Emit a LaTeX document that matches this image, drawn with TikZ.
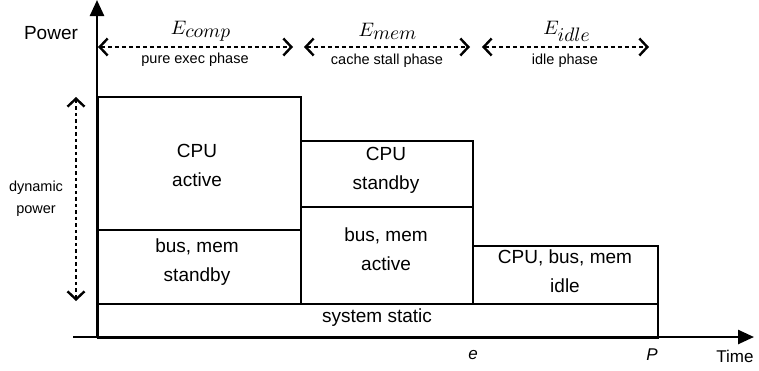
\documentclass[tikz,border=0pt]{standalone}
\usepackage{fontspec}
\setmainfont{Liberation Sans}
\usetikzlibrary{arrows.meta}
\begin{document}
\begin{tikzpicture}[x=1pt,y=-1pt,
  blk/.style={draw, line width=2pt, inner sep=0pt, anchor=north west},
  txt/.style={font=\fontsize{19}{29}\selectfont, align=center, inner sep=0pt},
  small/.style={font=\fontsize{14.5}{22}\selectfont, align=center, inner sep=0pt},
  mlab/.style={inner sep=0pt},
  ax/.style={line width=2.5pt, -{Triangle[length=16pt,width=14pt]}},
  barb/.tip={Straight Barb[length=8pt,width=17pt,line width=2.4pt]},
  span/.style={line width=2pt, dash pattern=on 4pt off 3pt, barb-barb}]
\useasboundingbox (0,0) rectangle (759,370);
% boxes
\node[blk, minimum width=203pt, minimum height=133pt] (cpuact) at (97,96) {};
\node[blk, minimum width=203pt, minimum height=74pt] (busstb) at (97,229) {};
\node[blk, minimum width=172pt, minimum height=66pt] (cpustb) at (300,140) {};
\node[blk, minimum width=172pt, minimum height=97pt] (busact) at (300,206) {};
\node[blk, minimum width=185pt, minimum height=58pt] (idlebox) at (472,245) {};
\node[blk, minimum width=560pt, minimum height=34pt] (static) at (97,303) {};
% axes
\coordinate (yb) at (97,338);
\coordinate (yt) at (97,0);
\coordinate (xl) at (73,337);
\coordinate (xr) at (754,337);
\draw[ax] (yb) -- (yt);
\draw[ax] (xl) -- (xr);
% box texts
\node[txt] (t1) at (197,165) {CPU\\active};
\node[txt] (t2) at (197,262) {bus, mem\\standby};
\node[txt] (t3) at (386,170) {CPU\\standby};
\node[txt] (t4) at (386,249) {bus, mem\\active};
\node[txt] (t5) at (565,271) {CPU, bus, mem\\idle};
\node[txt] (t6) at (377,318) {system static};
% phase spans
\coordinate (a1l) at (98,47);  \coordinate (a1r) at (293,47);
\coordinate (a2l) at (304,47); \coordinate (a2r) at (470,47);
\coordinate (a3l) at (482,47); \coordinate (a3r) at (649,47);
\draw[span] (a1l) -- (a1r);
\draw[span] (a2l) -- (a2r);
\draw[span] (a3l) -- (a3r);
\node[mlab] (e1) at (201,31) {\scalebox{1.95}{$E_{\textstyle comp}$}};
\node[mlab] (e2) at (388,31) {\scalebox{1.95}{$E_{\textstyle mem}$}};
\node[mlab] (e3) at (567,31) {\scalebox{1.95}{$E_{\textstyle idle}$}};
\node[small] (p1) at (195,60) {pure exec phase};
\node[small] (p2) at (387,61) {cache stall phase};
\node[small] (p3) at (565,61) {idle phase};
% dynamic power
\coordinate (dt) at (76,97);
\coordinate (db) at (76,301);
\draw[span, line width=2.5pt, dash pattern=on 3.5pt off 3pt] (dt) -- (db);
\node[small] (dyn) at (36,199) {dynamic\\power};
% axis labels
\node[font=\fontsize{19}{22}\selectfont, inner sep=0pt] (pw) at (51,33) {Power};
\node[font=\fontsize{17}{20}\selectfont, inner sep=0pt] (tm) at (735,356) {Time};
\node[font=\fontsize{17}{20}\selectfont\itshape, inner sep=0pt] (ee) at (473,355) {e};
\node[font=\fontsize{17}{20}\selectfont\itshape, inner sep=0pt] (pp) at (652,355) {P};
\end{tikzpicture}
\end{document}
